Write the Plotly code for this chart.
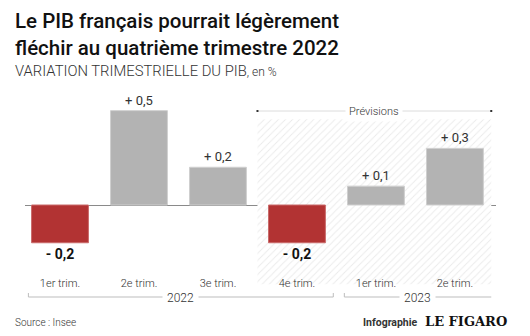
import plotly.graph_objects as go

# ---- data ----
quarters = ["1er trim.", "2e trim.", "3e trim.", "4e trim.", "1er trim.", "2e trim."]
years = ["2022", "2022", "2022", "2022", "2023", "2023"]
values = [-0.2, 0.5, 0.2, -0.2, 0.1, 0.3]
forecast_start = 3  # index of first forecast quarter
title_lines = ["Le PIB français pourrait légèrement", "fléchir au quatrième trimestre 2022"]
subtitle = "VARIATION TRIMESTRIELLE DU PIB"
unit = ", en %"
source = "Source : Insee"

# ---- layout geometry ----
W, H = 530, 336
L, R, T, B = 25, 34, 90, 44
PW, PH = W - L - R, H - T - B
XR = [-0.443, 5.52]
YR = [-0.461, 0.6094]

RED = "#b23333"
GREY = "#b3b3b3"
TXT = "#333333"
FONT = "Roboto"


def px2p(px):
    return (px - L) / PW


def py2p(py):
    return (H - B - py) / PH


xs = list(range(len(values)))


def fmt(v):
    s = f"{abs(v):.1f}".replace(".", ",")
    return f"<b>- {s}</b>" if v < 0 else f"+ {s}"


fig = go.Figure()

# hatched forecast zone (drawn first, under the bars)
hx0 = forecast_start - 0.5
hx1 = xs[-1] + 0.46
hy0, hy1 = -0.42, 0.455
fig.add_trace(go.Bar(
    x=[(hx0 + hx1) / 2], y=[hy1 - hy0], base=[hy0], width=[hx1 - hx0],
    marker=dict(color="white", line=dict(width=0),
                pattern=dict(shape="/", size=5, solidity=0.18, fgcolor="#d6d6d6", bgcolor="white")),
    hoverinfo="skip", showlegend=False,
))

fig.add_trace(go.Bar(
    x=xs, y=values, width=0.72,
    marker=dict(color=[RED if v < 0 else GREY for v in values],
                line=dict(color=["#c96a6a" if v < 0 else "#cfcfcf" for v in values], width=1)),
    text=[fmt(v) for v in values], textposition="outside", cliponaxis=False,
    constraintext="none",
    textfont=dict(family=FONT, size=[14 if v < 0 else 13 for v in values],
                  color=["#111111" if v < 0 else TXT for v in values]),
    showlegend=False, hoverinfo="skip",
))

shapes = []
annotations = []

# "Prévisions" bracket
py_prev = 111
shapes.append(dict(type="line", xref="x", yref="paper", x0=hx0, x1=hx1,
                   y0=py2p(py_prev), y1=py2p(py_prev), line=dict(color="#dcdcdc", width=1)))
for xe in (hx0, hx1):
    shapes.append(dict(type="line", xref="x", yref="paper", x0=xe, x1=xe,
                       y0=py2p(py_prev - 1), y1=py2p(py_prev + 1), line=dict(color="#333", width=2)))
annotations.append(dict(text="Prévisions", xref="x", yref="paper", x=(hx0 + hx1) / 2,
                        y=py2p(py_prev), yanchor="middle", showarrow=False, bgcolor="white",
                        borderpad=3, font=dict(family=FONT, size=11, color=TXT, weight=300)))

# year brackets
py_year = 297
groups = []
for i, y in enumerate(years):
    if groups and groups[-1][0] == y:
        groups[-1][2] = i
    else:
        groups.append([y, i, i])
for gi, (yr, i0, i1) in enumerate(groups):
    x0 = max(i0 - 0.5 + 0.1, XR[0] + 0.01)
    x1 = i1 + 0.5 - 0.04
    shapes.append(dict(type="line", xref="x", yref="paper", x0=x0, x1=x1,
                       y0=py2p(py_year), y1=py2p(py_year), line=dict(color="#bdbdbd", width=1)))
    ends = [x0, x1] if gi == 0 else [x0]
    for xe in ends:
        shapes.append(dict(type="line", xref="x", yref="paper", x0=xe, x1=xe,
                           y0=py2p(py_year), y1=py2p(py_year - 4), line=dict(color="#bdbdbd", width=1)))
    annotations.append(dict(text=yr, xref="x", yref="paper", x=(x0 + x1) / 2, y=py2p(py_year + 1),
                            yanchor="middle", showarrow=False, bgcolor="white", borderpad=4,
                            font=dict(family=FONT, size=12, color=TXT, weight=300)))

# titles
annotations.append(dict(text="<br>".join(title_lines), xref="paper", yref="paper",
                        x=px2p(13), y=py2p(7), xanchor="left", yanchor="top", align="left",
                        showarrow=False, font=dict(family=FONT, size=20.5, color="#111", weight=500)))
annotations.append(dict(text=subtitle + f"<span style='font-size:12px'>{unit}</span>",
                        xref="paper", yref="paper", x=px2p(13), y=py2p(71.5), xanchor="left",
                        yanchor="middle", showarrow=False,
                        font=dict(family=FONT, size=14.8, color=TXT, weight=300)))
annotations.append(dict(text=source, xref="paper", yref="paper", x=px2p(13), y=py2p(322),
                        xanchor="left", yanchor="middle", showarrow=False,
                        font=dict(family=FONT, size=10, color=TXT, weight=300)))
annotations.append(dict(text="<b>Infographie</b>", xref="paper", yref="paper", x=px2p(420),
                        y=py2p(322), xanchor="right", yanchor="middle", showarrow=False,
                        font=dict(family=FONT, size=10.5, color=TXT)))
annotations.append(dict(text="<b>LE FIGARO</b>", xref="paper", yref="paper", x=px2p(423),
                        y=py2p(321), xanchor="left", yanchor="middle", showarrow=False,
                        font=dict(family="DejaVu Serif", size=13, color="#111")))

fig.update_layout(
    width=W, height=H, margin=dict(l=L, r=R, t=T, b=B),
    paper_bgcolor="white", plot_bgcolor="rgba(0,0,0,0)",
    barmode="overlay",
    xaxis=dict(range=XR, tickvals=xs, ticktext=quarters, showgrid=False, zeroline=False,
               showline=False, ticks="", ticklabelposition="inside",
               tickfont=dict(family=FONT, size=11, color=TXT, weight=300)),
    yaxis=dict(range=YR, showgrid=False, zeroline=True, zerolinecolor="#8a8a8a",
               zerolinewidth=1, showticklabels=False, ticks=""),
    shapes=shapes, annotations=annotations,
)

fig.write_html("out.html")
